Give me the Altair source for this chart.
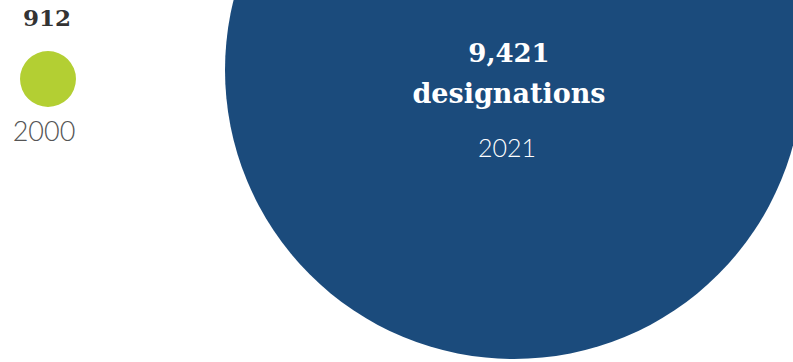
import altair as alt
import pandas as pd

years = [2000, 2021]
values = [912, 9421]
value_labels = ["912", "9,421"]
unit_labels = ["", "designations"]
year_labels = ["2000", "2021"]
colors = ["#b3cf33", "#1b4b7c"]

df = pd.DataFrame({
    "year": years,
    "value": values,
    "value_label": value_labels,
    "unit_label": unit_labels,
    "year_label": year_labels,
    "color": colors,
})

x = alt.X("year:Q", scale=alt.Scale(domain=[2000, 2021], range=[48, 514]), axis=None)
y = alt.Y("value:Q", scale=alt.Scale(domain=[912, 9421], range=[79, 70]), axis=None)

base = alt.Chart(df).encode(x=x, y=y)

circles = base.mark_circle(opacity=1, clip=True).encode(
    size=alt.Size("value:Q", scale=alt.Scale(type="pow", exponent=2, domain=[0, 9421], range=[0, 4 * 289 * 289]), legend=None),
    color=alt.Color("color:N", scale=None),
)

small = base.transform_filter(alt.datum.year == 2000)
big = base.transform_filter(alt.datum.year == 2021)

slab = "DejaVu Serif"
light = "Lato"

small_val = small.mark_text(font=slab, fontWeight="bold", fontSize=23, color="#333333",
                            baseline="alphabetic", align="center", dy=-53, dx=-1).encode(text="value_label:N")
small_year = small.mark_text(font=light, fontWeight=300, fontSize=27, color="#555555",
                             baseline="alphabetic", align="center", dy=62, dx=-4).encode(text="year_label:N")
big_val = big.mark_text(font=slab, fontWeight="bold", fontSize=26, color="#ffffff",
                        baseline="alphabetic", align="center", dy=-8, dx=-5).encode(text="value_label:N")
big_unit = big.mark_text(font=slab, fontWeight="bold", fontSize=27, color="#ffffff",
                         baseline="alphabetic", align="center", dy=33, dx=-5).encode(text="unit_label:N")
big_year = big.mark_text(font=light, fontWeight=300, fontSize=25, color="#ffffff",
                         baseline="alphabetic", align="center", dy=87, dx=-7).encode(text="year_label:N")

chart = alt.layer(circles, small_val, small_year, big_val, big_unit, big_year).properties(
    width=793, height=362, padding=0, autosize=alt.AutoSizeParams(type="none"),
    background="#ffffff",
).configure_view(stroke=None)

chart.save("out.html", embed_options={"renderer": "svg", "actions": False})
